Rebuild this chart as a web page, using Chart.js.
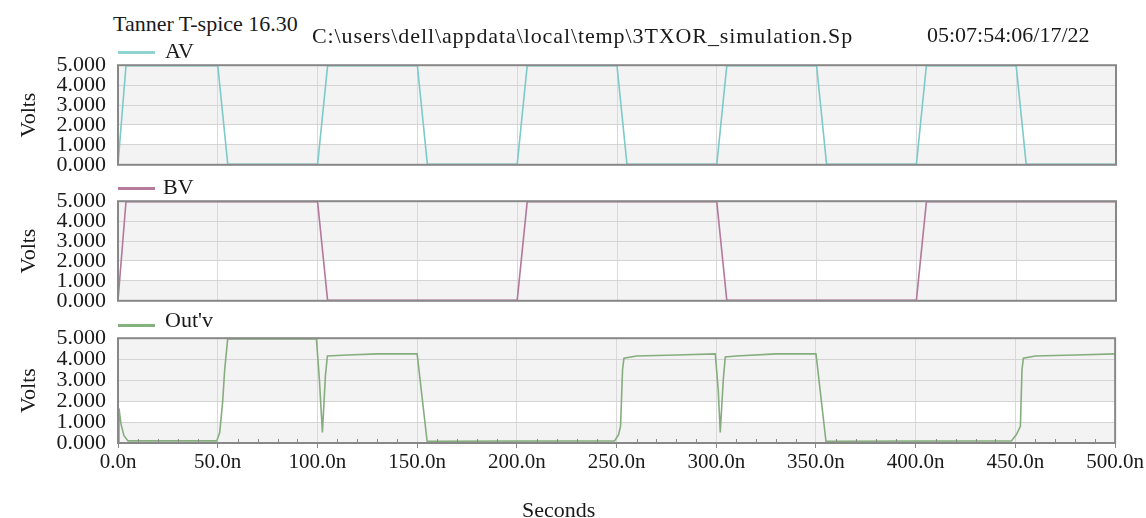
<!DOCTYPE html>
<html>
<head>
<meta charset="utf-8">
<title>3TXOR simulation</title>
<script src="https://cdn.jsdelivr.net/npm/chart.js@4.4.1/dist/chart.umd.min.js"></script>
<style>
  html, body { margin: 0; padding: 0; background: #fff; overflow: hidden; }
  body { width: 1146px; height: 518px; position: relative; font-family: "Liberation Serif", "Times New Roman", serif; color: #1a1a1a; }
  canvas { position: absolute; left: 0; }
  .txt { position: absolute; white-space: nowrap; font-size: 22px; line-height: 22px; z-index: 2; }
  .key { position: absolute; height: 3px; width: 37px; left: 118px; z-index: 2; }
</style>
</head>
<body>
<canvas id="avChart" width="1146" height="150" style="top:40px"></canvas>
<canvas id="bvChart" width="1146" height="150" style="top:176px"></canvas>
<canvas id="outChart" width="1146" height="212" style="top:313px"></canvas>

<div class="txt" style="left:113px;top:13px">Tanner T-spice 16.30</div>
<div class="txt" style="left:312px;top:25px;letter-spacing:0.9px">C:\users\dell\appdata\local\temp\3TXOR_simulation.Sp</div>
<div class="txt" style="left:927px;top:24px">05:07:54:06/17/22</div>

<div class="key" style="top:51px;background:#8fd3d3"></div>
<div class="txt" style="left:165px;top:40px">AV</div>
<div class="key" style="top:187px;background:#b57a9c"></div>
<div class="txt" style="left:163px;top:176px">BV</div>
<div class="key" style="top:324px;background:#84b27c"></div>
<div class="txt" style="left:165px;top:309px">Out'v</div>
<div class="txt" style="left:522px;top:499px">Seconds</div>

<script>
// time in ns, voltage in V
const avTime  = [0, 4, 50, 55, 100, 105, 150, 155, 200, 205, 250, 255, 300, 305, 350, 355, 400, 405, 450, 455, 500];
const avVolts = [0.02, 4.97, 4.97, 0.02, 0.02, 4.97, 4.97, 0.02, 0.02, 4.97, 4.97, 0.02, 0.02, 4.97, 4.97, 0.02, 0.02, 4.97, 4.97, 0.02, 0.02];

const bvTime  = [0, 4, 100, 105, 200, 205, 300, 305, 400, 405, 500];
const bvVolts = [0.02, 4.97, 4.97, 0.02, 0.02, 4.97, 4.97, 0.02, 0.02, 4.97, 4.97];

const outTime  = [0, 0.5, 1.5, 3, 5, 49.5, 51, 52.5, 53.5, 55, 99.5, 101, 102.5, 104, 105, 115, 130, 150, 155,
                  249, 251, 252, 253, 253.7, 260, 280, 299.5, 301, 302, 303.5, 304.5, 310, 330, 350, 355,
                  448, 450.5, 452.5, 453.3, 454, 460, 480, 500];
const outVolts = [0.05, 1.65, 0.9, 0.35, 0.1, 0.1, 0.5, 2.0, 3.5, 4.97, 4.97, 3.0, 0.5, 3.2, 4.15, 4.2, 4.25, 4.25, 0.08,
                  0.1, 0.4, 0.8, 3.5, 4.05, 4.15, 4.2, 4.25, 2.5, 0.5, 3.0, 4.1, 4.15, 4.25, 4.25, 0.08,
                  0.1, 0.4, 0.8, 3.5, 4.05, 4.15, 4.2, 4.25];

const voltTicks = [0, 1, 2, 3, 4, 5];
const timeTicks = [0, 50, 100, 150, 200, 250, 300, 350, 400, 450, 500];

const serif = "'Liberation Serif', 'Times New Roman', serif";
const ink = "#1a1a1a";

function points(t, v) {
    return t.map((x, i) => ({ x: x, y: v[i] }));
}

// shaded plot background and grey frame like the T-spice viewer
const plotFrame = {
    id: "plotFrame",
    beforeDraw(chart) {
        const { ctx, chartArea: a, scales } = chart;
        const y = scales.y;
        ctx.save();
        ctx.fillStyle = "#f3f3f3";
        ctx.fillRect(a.left, a.top, a.width, a.height);
        ctx.fillStyle = "#ffffff";
        const top = y.getPixelForValue(2), bot = y.getPixelForValue(1);
        ctx.fillRect(a.left, top, a.width, bot - top);
        ctx.restore();
    },
    afterDraw(chart) {
        const { ctx, chartArea: a } = chart;
        ctx.save();
        ctx.strokeStyle = "#888888";
        ctx.lineWidth = 2;
        ctx.strokeRect(a.left, a.top, a.width, a.height);
        if (chart.options.plugins.plotFrame && chart.options.plugins.plotFrame.minor) {
            const x = chart.scales.x;
            ctx.lineWidth = 1;
            for (let t = 10; t < 500; t += 10) {
                if (t % 50 === 0) continue;
                const px = Math.round(x.getPixelForValue(t)) + 0.5;
                ctx.beginPath();
                ctx.moveTo(px, a.bottom);
                ctx.lineTo(px, a.bottom - 4);
                ctx.stroke();
            }
        }
        ctx.restore();
    }
};

function makeChart(id, label, t, v, color, showX) {
    const xAxis = {
        type: "linear",
        min: 0,
        max: 500,
        afterBuildTicks: s => { s.ticks = timeTicks.map(value => ({ value })); },
        grid: { color: "#d9d9d9", drawTicks: showX, tickLength: 5, tickColor: "#888888" },
        border: { display: false },
        ticks: { display: showX }
    };
    if (showX) {
        xAxis.afterFit = s => { s.height = 82; };
        xAxis.ticks = {
            display: true,
            padding: 2,
            maxRotation: 0,
            autoSkip: false,
            color: ink,
            font: { family: serif, size: 21 },
            callback: val => val.toFixed(1) + "n"
        };
    } else {
        xAxis.afterFit = s => { s.height = 0; };
    }

    return new Chart(document.getElementById(id), {
        type: "line",
        data: {
            datasets: [{
                label: label,
                data: points(t, v),
                borderColor: color,
                borderWidth: 1.6,
                pointRadius: 0,
                tension: 0,
                fill: false
            }]
        },
        options: {
            responsive: false,
            animation: false,
            devicePixelRatio: 1,
            layout: { padding: { top: 22, right: 30, bottom: showX ? 0 : 20, left: 0 } },
            plugins: {
                legend: { display: false },
                tooltip: { enabled: false },
                plotFrame: { minor: showX }
            },
            scales: {
                x: xAxis,
                y: {
                    min: 0,
                    max: 5,
                    afterFit: s => { s.width = 118; },
                    afterBuildTicks: s => { s.ticks = voltTicks.map(value => ({ value })); },
                    grid: { color: "#d3d3d3", drawTicks: false },
                    border: { display: false },
                    ticks: {
                        autoSkip: false,
                        padding: 12,
                        color: ink,
                        font: { family: serif, size: 22 },
                        callback: val => val.toFixed(3)
                    },
                    title: {
                        display: true,
                        text: "Volts",
                        color: ink,
                        font: { family: serif, size: 22 },
                        padding: { top: 16, bottom: 0 }
                    }
                }
            }
        },
        plugins: [plotFrame]
    });
}

makeChart("avChart", "AV", avTime, avVolts, "#7ccaca", false);
makeChart("bvChart", "BV", bvTime, bvVolts, "#b4789c", false);
makeChart("outChart", "Out'v", outTime, outVolts, "#86ad7e", true);
</script>
</body>
</html>
